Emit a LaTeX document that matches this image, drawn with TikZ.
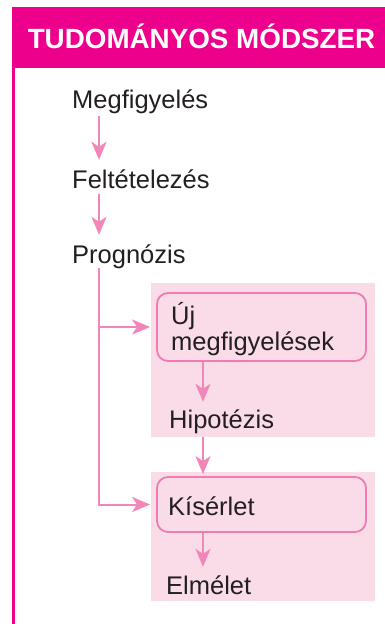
\documentclass[tikz,border=0pt]{standalone}
\usepackage{fontspec}
\setmainfont{Liberation Sans}
\usetikzlibrary{arrows.meta,calc}
\definecolor{magentaH}{HTML}{EC008C}
\definecolor{pinkline}{HTML}{F286B8}
\definecolor{pinkfill}{HTML}{FADCE9}
\definecolor{pinkborder}{HTML}{F07CB2}
\definecolor{textgray}{HTML}{231F20}
\begin{document}
\begin{tikzpicture}[x=1pt,y=-1pt,
  lbl/.style={anchor=base west,inner sep=0pt,text height=19pt,text depth=5pt,
    font=\fontsize{25.5}{23}\selectfont,text=textgray},
  panel/.style={draw=none,fill=pinkfill,inner sep=0pt,minimum width=224pt},
  rbox/.style={draw=pinkborder,line width=1.8pt,rounded corners=11pt,fill=pinkfill,
    inner sep=0pt,minimum width=209pt},
  arr/.style={draw=pinkline,line width=2pt,
    -{Stealth[length=18pt,width=15pt,inset=5pt]}},
  plain/.style={draw=pinkline,line width=2pt}
]
\useasboundingbox (0,0) rectangle (385,624);
% header
\node[fill=magentaH,minimum width=373pt,minimum height=61pt,inner sep=0pt,anchor=north west]
  (hdr) at (12,7) {};
\node[text=white,font=\fontsize{27.8}{30}\selectfont\bfseries,anchor=base,inner sep=0pt]
  (title) at (201.5,48.5) {TUDOMÁNYOS MÓDSZER};
\draw[magentaH,line width=3pt] (hdr.south west) ++(1.5,0) coordinate (lb) -- (lb |- 0,624);
% panels
\node[panel,minimum height=154pt] (r1) at (263,360) {};
\node[panel,minimum height=129pt] (r2) at (263,536.5) {};
\node[rbox,minimum height=68pt] (b1) at (261.5,327) {};
\node[rbox,minimum height=55pt] (b2) at (261.5,504.5) {};
% columns
\coordinate (col) at (99,0);
\coordinate (acol) at (203,0);
% texts
\node[lbl] (m) at (72,108) {Megfigyelés};
\node[lbl] (f) at (72,188.5) {Feltételezés};
\node[lbl] (p) at (72,263) {Prognózis};
\node[lbl,align=left] (u) at (171,350) {Új\\megfigyelések};
\node[lbl] (h) at (169,428) {Hipotézis};
\node[lbl] (k) at (168,515) {Kísérlet};
\node[lbl] (e) at (166,594) {Elmélet};
% connectors
\draw[arr,shorten <=3pt,shorten >=9.5pt] (m.south -| col) -- (f.north -| col);
\draw[arr,shorten >=9pt] (f.south -| col) -- (p.north -| col);
\draw[arr,shorten >=6pt] (p.south -| col) |- (b2.west);
\draw[arr,shorten >=6pt] (col |- b1.west) -- (b1.west);
\draw[arr,shorten >=7pt] (b1.south -| acol) -- (h.north -| acol);
\draw[arr,shorten >=2pt] (r1.south -| acol) -- (b2.north -| acol);
\draw[arr,shorten >=8pt] (b2.south -| acol) -- (e.north -| acol);
\end{tikzpicture}
\end{document}
